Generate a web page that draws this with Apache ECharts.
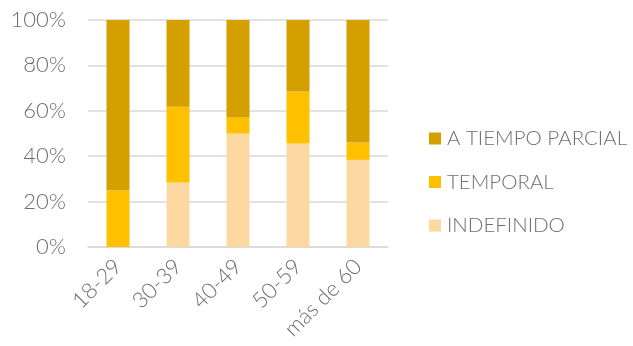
<!DOCTYPE html>
<html><head><meta charset="utf-8">
<script src="https://cdn.jsdelivr.net/npm/echarts@6/dist/echarts.min.js"></script>
<style>html,body{margin:0;padding:0;background:#fff}#c{width:633px;height:346px}</style>
</head><body><div id="c"></div>
<script>
const categories = ['18-29','30-39','40-49','50-59','más de 60'];
const indefinido = [0, 28.4, 50, 45.6, 38.4];
const temporal = [25, 33.4, 7.1, 22.9, 7.6];
const parcial = [75, 38.2, 42.9, 31.5, 54];
const yTicks = [0,20,40,60,80,100];

const font = 'Lato';
const txt = '#6e6e6e';
const chart = echarts.init(document.getElementById('c'));
chart.setOption({
  animation:false,
  grid:{left:88,right:245,top:20,bottom:99},
  legend:{
    orient:'vertical', left:429, top:128, itemGap:22.5, padding:0,
    itemWidth:12, itemHeight:12, icon:'rect',
    textStyle:{fontFamily:font,fontSize:20.5,color:txt,fontWeight:300,padding:[0,0,0,1]},
    data:['A TIEMPO PARCIAL','TEMPORAL','INDEFINIDO']
  },
  xAxis:{type:'category',data:categories,
    axisLine:{lineStyle:{color:'#d9d9d9',width:1.5}},axisTick:{show:false},
    axisLabel:{rotate:45,fontFamily:font,fontSize:22,color:txt,fontWeight:300,margin:16,interval:0}},
  yAxis:{type:'value',min:0,max:100,interval:20,
    axisLabel:{formatter:v=>v+'%',fontFamily:font,fontSize:22,color:txt,fontWeight:300,margin:22},
    splitLine:{lineStyle:{color:'#d9d9d9',width:1.5}},axisLine:{show:false},axisTick:{show:false}},
  series:[
    {name:'INDEFINIDO',type:'bar',stack:'s',data:indefinido,barWidth:23,itemStyle:{color:'#FDD9A1'}},
    {name:'TEMPORAL',type:'bar',stack:'s',data:temporal,itemStyle:{color:'#FFC000'}},
    {name:'A TIEMPO PARCIAL',type:'bar',stack:'s',data:parcial,itemStyle:{color:'#D4A000'}}
  ]
});
</script></body></html>
